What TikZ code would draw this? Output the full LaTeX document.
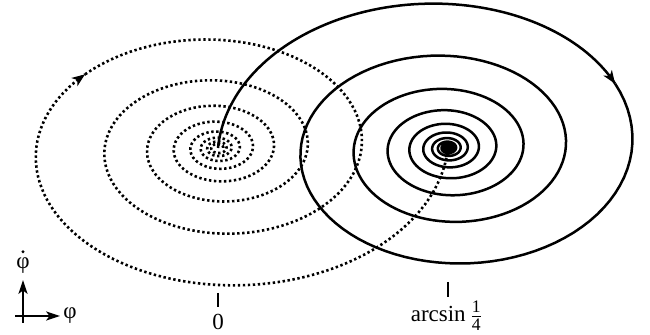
\documentclass[tikz,border=0pt]{standalone}
\usepackage{fontspec}
\setmainfont{Liberation Serif}
\usetikzlibrary{arrows.meta,decorations.markings}

\begin{document}
\begin{tikzpicture}[
    x=0.5pt, y=-0.5pt,
    font=\fontsize{11.5}{13}\selectfont,
    solidtraj/.style={line width=1.25pt, line join=round},
    dottraj/.style={line width=1.3pt, dash pattern=on 1.2pt off 1.3pt},
    tipend/.style={postaction={decorate}, decoration={markings, mark=at position 1 with {\arrow[solid]{Stealth[length=6.5pt,width=5pt,inset=1.8pt]}}}},
    axis/.style={line width=0.65pt, -{Stealth[length=7pt,width=4.6pt,inset=1.8pt]}},
    tick/.style={line width=0.65pt}
]
\useasboundingbox (0,0) rectangle (650,335);

% spiral around 0 (dotted)
\draw[dottraj, tipend] plot[domain=0:3.833, samples=80]
    ({218+230*0.79^(\x/pi)*cos(\x r)}, {148+0.67*230*0.79^(\x/pi)*sin(\x r)});
\draw[dottraj] plot[domain=3.833:50.3, samples=700]
    ({218+230*0.79^(\x/pi)*cos(\x r)}, {148+0.67*230*0.79^(\x/pi)*sin(\x r)});

% spiral around arcsin 1/4 (solid)
\draw[solidtraj, tipend] plot[domain=0:2.639, samples=80]
    ({448-230*0.8^(\x/pi)*cos(\x r)}, {148-0.7*230*0.8^(\x/pi)*sin(\x r)});
\draw[solidtraj] plot[domain=2.639:62.8, samples=900]
    ({448-230*0.8^(\x/pi)*cos(\x r)}, {148-0.7*230*0.8^(\x/pi)*sin(\x r)});
\fill (448,148) ellipse[x radius=7, y radius=5];

% ticks and labels
\coordinate (zerotop) at (218,293);
\coordinate (zerobot) at (218,307);
\coordinate (arctop) at (448,282);
\coordinate (arcbot) at (448,297);
\draw[tick] (zerotop) -- (zerobot);
\draw[tick] (arctop) -- (arcbot);
\node[anchor=base, inner sep=0pt] (lblzero) at (218,330) {0};
\node[anchor=base, inner sep=0pt] (lblarcsin) at (447,322)
    {arcsin\,$\frac{\mbox{\fontsize{8.8}{9}\selectfont 1}}{\mbox{\fontsize{8.8}{9}\selectfont 4}}$};

% axes
\coordinate (vbot) at (23,323);
\coordinate (vtop) at (23,280);
\coordinate (hleft) at (15,316);
\coordinate (hright) at (60,316);
\draw[axis] (vbot) -- (vtop);
\draw[axis] (hleft) -- (hright);
\node[inner sep=0pt] (lblphi) at (70,316) {φ};
\node[inner sep=0pt] (lblphidot) at (23,266) {φ};
\fill (lblphidot.north) ++(0,-6) circle[radius=1.6];

\end{tikzpicture}
\end{document}
